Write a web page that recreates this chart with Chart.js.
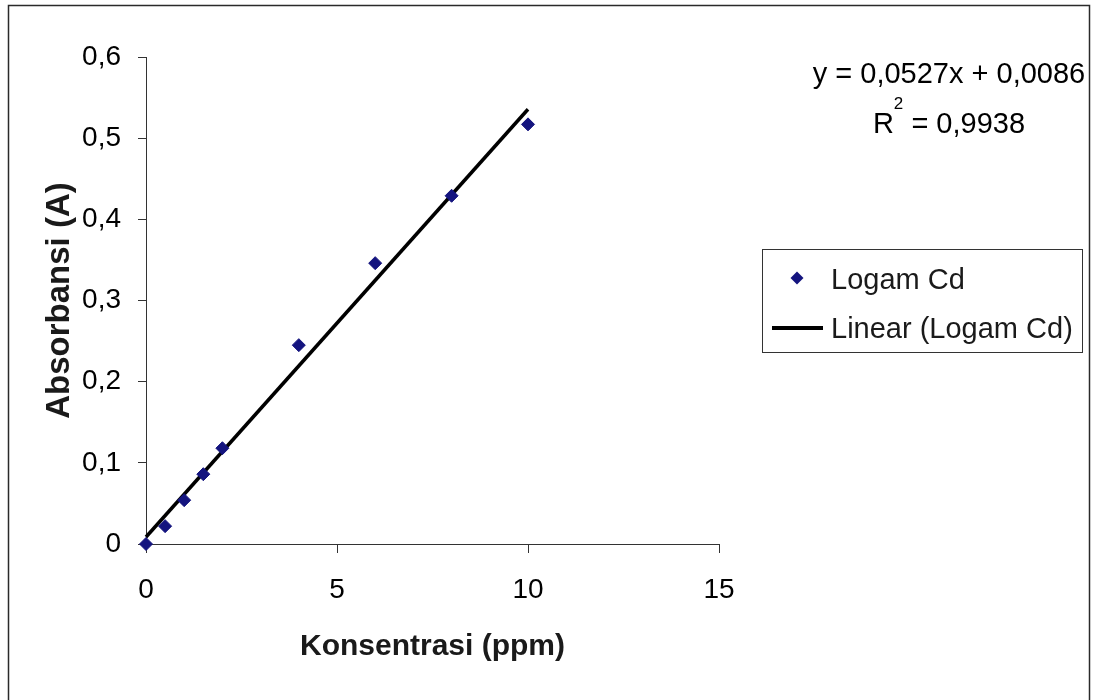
<!DOCTYPE html>
<html>
<head>
<meta charset="utf-8">
<script src="https://cdn.jsdelivr.net/npm/chart.js@4/dist/chart.umd.min.js"></script>
<style>
  html, body { margin: 0; padding: 0; background: #ffffff; }
  canvas { display: block; }
</style>
</head>
<body>
<canvas id="chart" width="1094" height="700"></canvas>
<script>
// Calibration data: cadmium standard concentrations and measured absorbance
const concentrations = [0, 0.5, 1, 1.5, 2, 4, 6, 8, 10];
const absorbances    = [0, 0.022, 0.054, 0.086, 0.118, 0.245, 0.346, 0.429, 0.517];

// Least-squares fit reported on the chart
const slope = 0.0527;
const intercept = 0.0086;
const rSquared = 0.9938;

const xTicks = [0, 5, 10, 15];
const yTicks = [0, 0.1, 0.2, 0.3, 0.4, 0.5, 0.6];

const seriesName = 'Logam Cd';
const trendName = 'Linear (Logam Cd)';
const xTitle = 'Konsentrasi (ppm)';
const yTitle = 'Absorbansi (A)';

const FONT = '"Liberation Sans", Arial, sans-serif';
const MARKER = '#14147f';
const AXIS = '#333333';

const comma = (v, d) => v.toFixed(d).replace('.', ',');

// Trendline endpoints come straight from the fitted equation
const fitX = [concentrations[0], concentrations[concentrations.length - 1]];
const fitPoints = fitX.map(x => ({ x, y: slope * x + intercept }));

Chart.defaults.font.family = FONT;
Chart.defaults.color = '#000000';

// Frame, axis titles, equation and boxed legend
const decorations = {
  id: 'decorations',
  beforeDraw(chart) {
    const ctx = chart.ctx;
    ctx.save();
    ctx.fillStyle = '#ffffff';
    ctx.fillRect(0, 0, chart.width, chart.height);
    ctx.restore();
  },
  afterDraw(chart) {
    const ctx = chart.ctx;
    const area = chart.chartArea;
    ctx.save();

    // outer frame
    ctx.strokeStyle = '#2a2a2a';
    ctx.lineWidth = 1.5;
    ctx.strokeRect(8.5, 5.5, 1081, 720);

    ctx.fillStyle = '#1a1a1a';

    // x title
    ctx.font = 'bold 30px ' + FONT;
    ctx.textAlign = 'center';
    ctx.textBaseline = 'alphabetic';
    ctx.fillText(xTitle, (area.left + area.right) / 2, 655);

    // y title
    ctx.save();
    ctx.translate(69, (area.top + area.bottom) / 2);
    ctx.rotate(-Math.PI / 2);
    ctx.font = 'bold 33px ' + FONT;
    ctx.fillText(yTitle, 0, 0);
    ctx.restore();

    // regression equation
    ctx.fillStyle = '#000000';
    ctx.font = '29px ' + FONT;
    ctx.textAlign = 'center';
    ctx.fillText('y = ' + comma(slope, 4) + 'x + ' + comma(intercept, 4), 949, 83);

    const rest = ' = ' + comma(rSquared, 4);
    ctx.font = '29px ' + FONT;
    const wR = ctx.measureText('R').width;
    const wRest = ctx.measureText(rest).width;
    ctx.font = '17px ' + FONT;
    const wSup = ctx.measureText('2').width;
    const x0 = 949 - (wR + wSup + wRest) / 2;
    ctx.textAlign = 'left';
    ctx.font = '29px ' + FONT;
    ctx.fillText('R', x0, 133);
    ctx.font = '17px ' + FONT;
    ctx.fillText('2', x0 + wR, 109);
    ctx.font = '29px ' + FONT;
    ctx.fillText(rest, x0 + wR + wSup, 133);

    // legend box
    ctx.strokeStyle = '#333333';
    ctx.lineWidth = 1;
    ctx.strokeRect(762.5, 249.5, 320, 103);

    // marker entry
    ctx.fillStyle = MARKER;
    ctx.beginPath();
    ctx.moveTo(797 - 6.5, 278);
    ctx.lineTo(797, 278 - 6.5);
    ctx.lineTo(797 + 6.5, 278);
    ctx.lineTo(797, 278 + 6.5);
    ctx.closePath();
    ctx.fill();

    // trendline entry
    ctx.strokeStyle = '#000000';
    ctx.lineWidth = 4;
    ctx.beginPath();
    ctx.moveTo(772, 328);
    ctx.lineTo(823, 328);
    ctx.stroke();

    ctx.fillStyle = '#1a1a1a';
    ctx.font = '29px ' + FONT;
    ctx.textAlign = 'left';
    ctx.fillText(seriesName, 831, 289);
    ctx.fillText(trendName, 831, 338);

    ctx.restore();
  }
};

new Chart(document.getElementById('chart'), {
  type: 'scatter',
  data: {
    datasets: [
      {
        label: seriesName,
        data: concentrations.map((x, i) => ({ x, y: absorbances[i] })),
        pointStyle: 'rectRot',
        pointRadius: 6.5,
        pointBorderWidth: 1,
        backgroundColor: MARKER,
        borderColor: MARKER,
        showLine: false,
        clip: false,
        order: 1
      },
      {
        label: trendName,
        data: fitPoints,
        showLine: true,
        pointRadius: 0,
        borderColor: '#000000',
        borderWidth: 3.5,
        fill: false,
        clip: false,
        order: 2
      }
    ]
  },
  plugins: [decorations],
  options: {
    responsive: false,
    animation: false,
    layout: { padding: { left: 0, top: 57, right: 375, bottom: 0 } },
    plugins: {
      legend: { display: false },
      tooltip: { enabled: false }
    },
    scales: {
      x: {
        type: 'linear',
        min: 0,
        max: 15,
        afterBuildTicks: s => { s.ticks = xTicks.map(v => ({ value: v })); },
        afterFit: s => { s.height = 156; },
        grid: { drawOnChartArea: false, drawTicks: true, tickLength: 9, color: AXIS, lineWidth: 1 },
        border: { display: true, color: AXIS, width: 1 },
        ticks: {
          font: { size: 28 },
          color: '#000000',
          padding: 20,
          maxRotation: 0,
          callback: v => String(v)
        }
      },
      y: {
        type: 'linear',
        min: 0,
        max: 0.6,
        afterBuildTicks: s => { s.ticks = yTicks.map(v => ({ value: v })); },
        afterFit: s => { s.width = 146; },
        grid: { drawOnChartArea: false, drawTicks: true, tickLength: 8, color: AXIS, lineWidth: 1 },
        border: { display: true, color: AXIS, width: 1 },
        ticks: {
          font: { size: 28 },
          color: '#000000',
          padding: 17,
          callback: v => (v === 0 ? '0' : comma(v, 1))
        }
      }
    }
  }
});
</script>
</body>
</html>
